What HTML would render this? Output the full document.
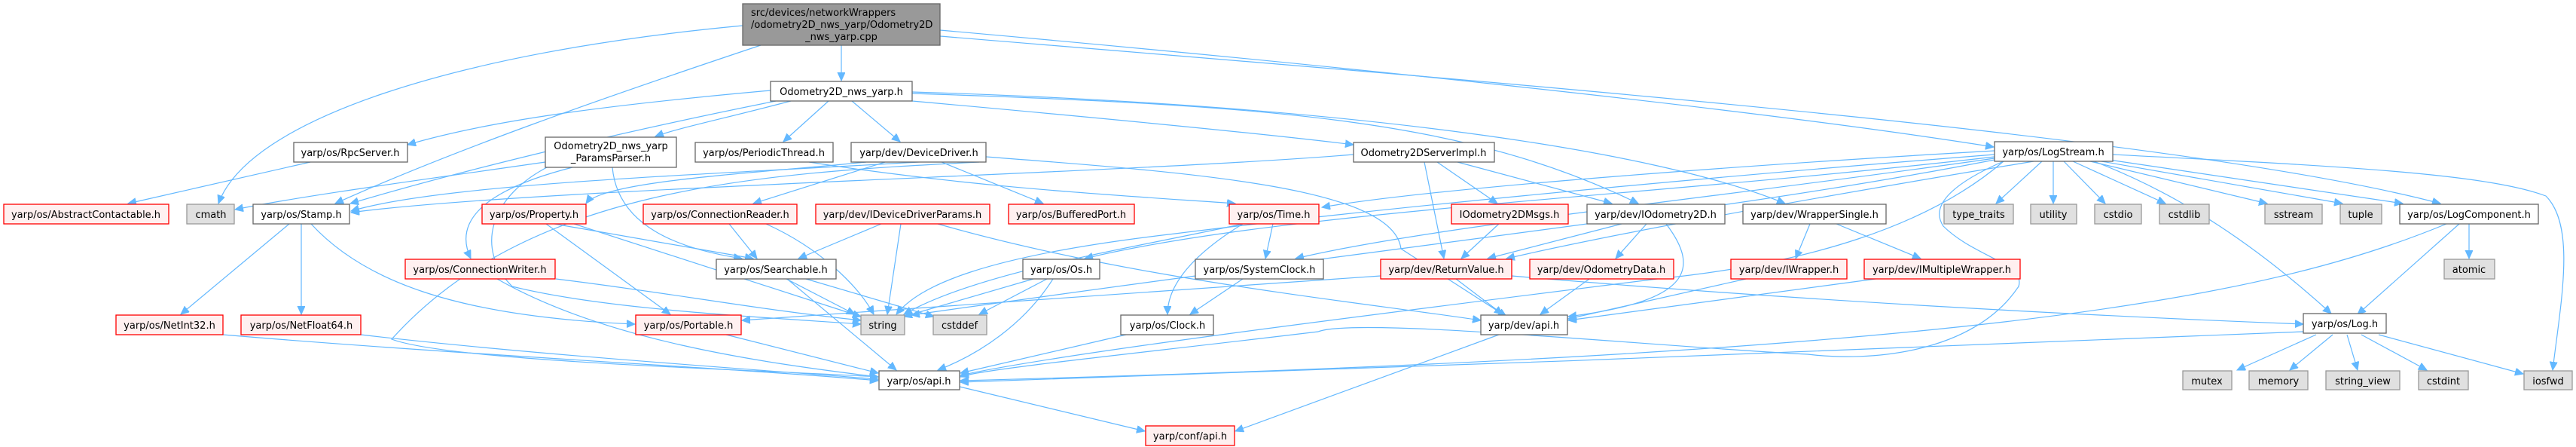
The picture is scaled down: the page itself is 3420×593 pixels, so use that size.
<!DOCTYPE html>
<html><head><meta charset="utf-8"><style>
html,body{margin:0;padding:0;background:#fff;}
svg{display:block;}
text{font-family:"DejaVu Sans","Liberation Sans",sans-serif;font-size:13px;fill:#000;}
.w{fill:#fff;stroke:#666;stroke-width:1.3;}
.r{fill:#fff0f0;stroke:#f00;stroke-width:1.3;}
.g{fill:#e0e0e0;stroke:#999;stroke-width:1.3;}
.e{fill:none;stroke:#63b8ff;stroke-width:1.2;marker-end:url(#a);}
</style></head><body>
<svg width="3420" height="593" viewBox="0 0 3420 593" xmlns="http://www.w3.org/2000/svg">
<defs><marker id="a" markerUnits="userSpaceOnUse" markerWidth="12" markerHeight="12" refX="11" refY="5" orient="auto"><path d="M0,0 L11,5 L0,10 z" fill="#63b8ff" stroke="#63b8ff"/></marker></defs>
<g id="edges">
<path class="e" d="M1117,60 L1117,107"/>
<path class="e" d="M986,34 C600,70 330,160 290,270"/>
<path class="e" d="M1010,60 C800,130 600,200 445,270"/>
<path class="e" d="M1248,40 C1700,80 2300,140 2647,195"/>
<path class="e" d="M1248,48 C2000,110 2900,180 3240,270"/>
<path class="e" d="M1023,120 C800,140 650,160 541,192"/>
<path class="e" d="M1050,134 C950,160 900,170 870,181"/>
<path class="e" d="M1100,134 L1040,188"/>
<path class="e" d="M1131,134 L1195,188"/>
<path class="e" d="M1211,134 C1500,160 1700,180 1797,192"/>
<path class="e" d="M1211,124 C1700,140 1950,160 2175,270"/>
<path class="e" d="M1211,122 C1800,140 2200,200 2370,270"/>
<path class="e" d="M1030,134 C800,180 600,230 465,270"/>
<path class="e" d="M412,215 L170,270"/>
<path class="e" d="M724,215 C550,240 400,260 312,278"/>
<path class="e" d="M760,222 C650,250 600,290 625,343"/>
<path class="e" d="M813,222 C820,300 900,330 985,343"/>
<path class="e" d="M730,220 C650,260 630,330 680,380 C800,410 1000,420 1143,430"/>
<path class="e" d="M1300,215 C1000,230 700,250 520,450 C600,480 1000,490 1166,500"/>
<path class="e" d="M1074,215 C1300,250 1500,260 1640,270"/>
<path class="e" d="M1150,215 C1000,230 800,240 778,270"/>
<path class="e" d="M1175,215 L1000,270"/>
<path class="e" d="M1250,215 L1385,270"/>
<path class="e" d="M1309,208 C1600,230 1850,250 1860,330 L2000,420"/>
<path class="e" d="M1300,210 C1000,230 600,240 466,280"/>
<path class="e" d="M1891,215 L1917,343"/>
<path class="e" d="M1908,215 L1988,270"/>
<path class="e" d="M1935,215 L2140,270"/>
<path class="e" d="M1797,205 C1500,230 700,250 466,282"/>
<path class="e" d="M2660,214 C2600,240 2560,270 2580,300 C2620,340 2690,350 2680,380 C2620,470 2480,480 2400,470 C2200,460 1800,420 1750,440 C1500,470 1300,490 1275,500"/>
<path class="e" d="M2711,214 L2650,270"/>
<path class="e" d="M2726,214 L2726,270"/>
<path class="e" d="M2740,214 L2795,270"/>
<path class="e" d="M2752,214 L2875,270"/>
<path class="e" d="M2775,214 L3010,270"/>
<path class="e" d="M2790,214 L3110,270"/>
<path class="e" d="M2800,212 L3190,270"/>
<path class="e" d="M2780,214 C2900,260 3000,330 3095,416"/>
<path class="e" d="M2805,205 C3100,220 3300,230 3380,260 C3420,300 3400,400 3389,491"/>
<path class="e" d="M2648,205 C2200,240 1800,280 1560,310 C1300,340 1220,380 1190,417"/>
<path class="e" d="M2648,200 C2300,220 1900,250 1755,275"/>
<path class="e" d="M2648,210 C2300,260 1900,300 1720,343"/>
<path class="e" d="M2648,208 C2200,260 1700,280 1440,343"/>
<path class="e" d="M2660,214 C2560,300 2400,350 2200,370 C1800,420 1400,470 1275,498"/>
<path class="e" d="M2648,212 C2300,280 1900,320 1210,418"/>
<path class="e" d="M2700,214 C2300,280 2100,320 2000,343"/>
<path class="e" d="M384,297 L240,417"/>
<path class="e" d="M400,297 L400,417"/>
<path class="e" d="M413,297 C480,370 600,420 843,430"/>
<path class="e" d="M725,297 L890,417"/>
<path class="e" d="M736,297 L1000,343"/>
<path class="e" d="M762,297 L1143,420"/>
<path class="e" d="M968,297 L1005,343"/>
<path class="e" d="M1017,297 C1090,330 1140,380 1160,417"/>
<path class="e" d="M1170,297 L1060,343"/>
<path class="e" d="M1196,297 L1178,417"/>
<path class="e" d="M1245,297 C1500,370 1800,400 1966,425"/>
<path class="e" d="M1650,297 C1500,330 1300,360 1200,417"/>
<path class="e" d="M1690,297 L1680,343"/>
<path class="e" d="M1650,297 C1580,340 1550,380 1550,417"/>
<path class="e" d="M1044,370 L1135,417"/>
<path class="e" d="M1070,370 L1240,420"/>
<path class="e" d="M1045,370 L1190,491"/>
<path class="e" d="M1372,370 L1200,420"/>
<path class="e" d="M1390,370 L1300,417"/>
<path class="e" d="M1398,370 C1360,430 1300,470 1245,491"/>
<path class="e" d="M1650,370 L1580,417"/>
<path class="e" d="M1495,444 L1275,495"/>
<path class="e" d="M738,370 C900,390 1000,410 1143,425"/>
<path class="e" d="M660,370 C800,450 1000,480 1166,500"/>
<path class="e" d="M964,444 L1166,495"/>
<path class="e" d="M296,444 C600,470 1000,490 1166,505"/>
<path class="e" d="M479,444 C700,470 1000,490 1166,503"/>
<path class="e" d="M1274,513 L1520,572"/>
<path class="e" d="M1990,444 L1640,572"/>
<path class="e" d="M1933,370 L1995,417"/>
<path class="e" d="M1833,366 C1500,390 1200,410 985,425"/>
<path class="e" d="M2007,366 C2400,400 2800,420 3058,430"/>
<path class="e" d="M1990,297 L1940,343"/>
<path class="e" d="M2153,297 L1975,343"/>
<path class="e" d="M2186,297 L2145,343"/>
<path class="e" d="M2212,297 C2260,360 2240,400 2082,420"/>
<path class="e" d="M2110,370 L2045,417"/>
<path class="e" d="M2403,297 L2384,343"/>
<path class="e" d="M2438,297 L2550,343"/>
<path class="e" d="M2318,370 L2082,423"/>
<path class="e" d="M2490,370 L2082,425"/>
<path class="e" d="M3248,297 C3000,400 2600,470 1275,505"/>
<path class="e" d="M3265,297 L3130,417"/>
<path class="e" d="M3278,297 L3278,343"/>
<path class="e" d="M3075,444 L2970,491"/>
<path class="e" d="M3097,444 L3040,491"/>
<path class="e" d="M3116,444 L3130,491"/>
<path class="e" d="M3135,444 L3222,491"/>
<path class="e" d="M3158,444 L3350,496"/>
<path class="e" d="M3058,440 C2600,460 1800,490 1275,507"/>
</g>
<g id="nodes">
<rect class="g" x="986" y="5" width="262" height="55" style="fill:#999;stroke:#666"/>
<text x="997" y="21">src/devices/networkWrappers</text>
<text x="997" y="37">/odometry2D_nws_yarp/Odometry2D</text>
<text x="1117" y="53" text-anchor="middle">_nws_yarp.cpp</text>
<g text-anchor="middle">
<rect class="w" x="1023" y="108" width="188" height="26"/><text x="1117" y="126">Odometry2D_nws_yarp.h</text>
<rect class="w" x="390" y="189" width="151" height="26"/><text x="465" y="207">yarp/os/RpcServer.h</text>
<rect class="w" x="724" y="182" width="174" height="40"/><text x="811" y="198">Odometry2D_nws_yarp</text><text x="811" y="214">_ParamsParser.h</text>
<rect class="w" x="923" y="189" width="183" height="26"/><text x="1014" y="207">yarp/os/PeriodicThread.h</text>
<rect class="w" x="1130" y="189" width="179" height="26"/><text x="1220" y="207">yarp/dev/DeviceDriver.h</text>
<rect class="w" x="1797" y="189" width="187" height="26"/><text x="1890" y="207">Odometry2DServerImpl.h</text>
<rect class="w" x="2648" y="188" width="157" height="26"/><text x="2726" y="206">yarp/os/LogStream.h</text>

<rect class="r" x="5" y="271" width="219" height="26"/><text x="114" y="289">yarp/os/AbstractContactable.h</text>
<rect class="g" x="248" y="271" width="63" height="26"/><text x="280" y="289">cmath</text>
<rect class="w" x="336" y="271" width="128" height="26"/><text x="400" y="289">yarp/os/Stamp.h</text>
<rect class="r" x="640" y="271" width="138" height="26"/><text x="709" y="289">yarp/os/Property.h</text>
<rect class="r" x="854" y="271" width="204" height="26"/><text x="956" y="289">yarp/os/ConnectionReader.h</text>
<rect class="r" x="1083" y="271" width="231" height="26"/><text x="1198" y="289">yarp/dev/IDeviceDriverParams.h</text>
<rect class="r" x="1339" y="271" width="167" height="26"/><text x="1422" y="289">yarp/os/BufferedPort.h</text>
<rect class="r" x="1632" y="271" width="119" height="26"/><text x="1691" y="289">yarp/os/Time.h</text>
<rect class="r" x="1927" y="271" width="155" height="26"/><text x="2004" y="289">IOdometry2DMsgs.h</text>
<rect class="w" x="2107" y="271" width="183" height="26"/><text x="2198" y="289">yarp/dev/IOdometry2D.h</text>
<rect class="w" x="2314" y="271" width="190" height="26"/><text x="2409" y="289">yarp/dev/WrapperSingle.h</text>
<rect class="g" x="2581" y="271" width="92" height="26"/><text x="2627" y="289">type_traits</text>
<rect class="g" x="2696" y="271" width="61" height="26"/><text x="2726" y="289">utility</text>
<rect class="g" x="2781" y="271" width="62" height="26"/><text x="2812" y="289">cstdio</text>
<rect class="g" x="2867" y="271" width="66" height="26"/><text x="2900" y="289">cstdlib</text>
<rect class="g" x="3007" y="271" width="76" height="26"/><text x="3045" y="289">sstream</text>
<rect class="g" x="3107" y="271" width="55" height="26"/><text x="3134" y="289">tuple</text>
<rect class="w" x="3186" y="271" width="184" height="26"/><text x="3278" y="289">yarp/os/LogComponent.h</text>

<rect class="r" x="538" y="344" width="199" height="26"/><text x="637" y="362">yarp/os/ConnectionWriter.h</text>
<rect class="w" x="951" y="344" width="159" height="26"/><text x="1030" y="362">yarp/os/Searchable.h</text>
<rect class="w" x="1358" y="344" width="102" height="26"/><text x="1409" y="362">yarp/os/Os.h</text>
<rect class="w" x="1587" y="344" width="170" height="26"/><text x="1672" y="362">yarp/os/SystemClock.h</text>
<rect class="r" x="1833" y="344" width="174" height="26"/><text x="1920" y="362">yarp/dev/ReturnValue.h</text>
<rect class="r" x="2031" y="344" width="191" height="26"/><text x="2126" y="362">yarp/dev/OdometryData.h</text>
<rect class="r" x="2298" y="344" width="154" height="26"/><text x="2375" y="362">yarp/dev/IWrapper.h</text>
<rect class="r" x="2475" y="344" width="207" height="26"/><text x="2578" y="362">yarp/dev/IMultipleWrapper.h</text>
<rect class="g" x="3245" y="344" width="67" height="26"/><text x="3278" y="362">atomic</text>

<rect class="r" x="154" y="418" width="142" height="26"/><text x="225" y="436">yarp/os/NetInt32.h</text>
<rect class="r" x="320" y="418" width="159" height="26"/><text x="400" y="436">yarp/os/NetFloat64.h</text>
<rect class="r" x="844" y="418" width="140" height="26"/><text x="914" y="436">yarp/os/Portable.h</text>
<rect class="g" x="1143" y="418" width="58" height="26"/><text x="1172" y="436">string</text>
<rect class="g" x="1239" y="418" width="71" height="26"/><text x="1274" y="436">cstddef</text>
<rect class="w" x="1488" y="418" width="123" height="26"/><text x="1550" y="436">yarp/os/Clock.h</text>
<rect class="w" x="1966" y="418" width="115" height="26"/><text x="2023" y="436">yarp/dev/api.h</text>
<rect class="w" x="3058" y="416" width="110" height="26"/><text x="3113" y="434">yarp/os/Log.h</text>

<rect class="w" x="1167" y="492" width="107" height="25"/><text x="1220" y="510">yarp/os/api.h</text>
<rect class="g" x="2898" y="492" width="65" height="25"/><text x="2930" y="510">mutex</text>
<rect class="g" x="2986" y="492" width="78" height="25"/><text x="3025" y="510">memory</text>
<rect class="g" x="3088" y="492" width="98" height="25"/><text x="3137" y="510">string_view</text>
<rect class="g" x="3211" y="492" width="66" height="25"/><text x="3244" y="510">cstdint</text>
<rect class="g" x="3351" y="492" width="64" height="25"/><text x="3383" y="510">iosfwd</text>

<rect class="r" x="1521" y="565" width="118" height="26"/><text x="1580" y="583">yarp/conf/api.h</text>
</g>
</g>
</svg>
</body></html>
